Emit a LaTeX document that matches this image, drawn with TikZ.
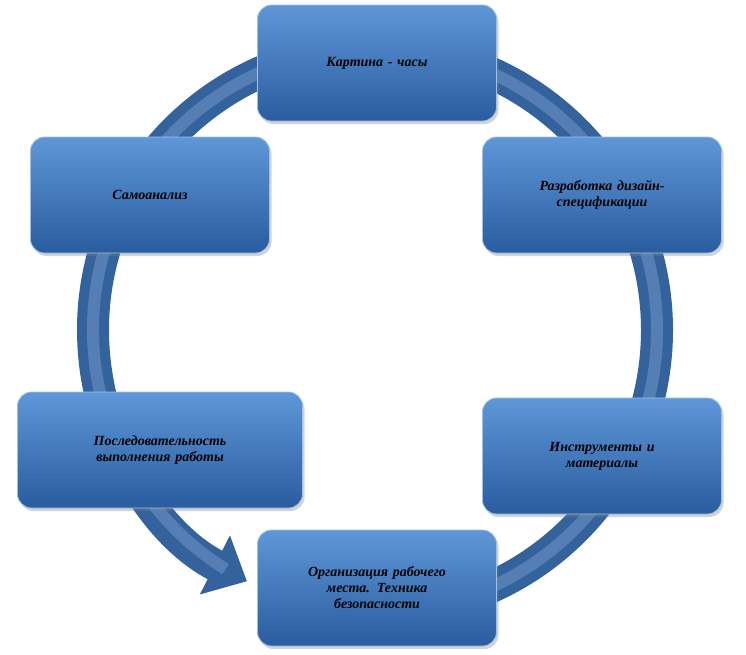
\documentclass[tikz,border=0pt]{standalone}
\usepackage{fontspec}
\setmainfont{Liberation Serif}
\usetikzlibrary{arrows.meta,shadows}
\definecolor{ringblue}{HTML}{3C73B8}
\definecolor{boxtop}{HTML}{5E97D8}
\definecolor{boxbot}{HTML}{2A5C9E}
\tikzset{
  stagebox/.style={rounded corners=14pt, minimum width=239pt, minimum height=116pt,
    top color=boxtop, bottom color=boxbot, draw=boxtop!60!white, line width=0.8pt,
    drop shadow={shadow xshift=2pt, shadow yshift=-3pt, opacity=0.35},
    align=center, text width=210pt, font=\fontsize{14}{16}\selectfont\bfseries\itshape}
}
\begin{document}
\begin{tikzpicture}[x=1pt,y=-1pt]
	\useasboundingbox (0,0) rectangle (746,654);
	% ring
	\draw[ringblue!85!black, line width=32pt, -{Triangle[width=64pt,length=36pt]}]
	   (375,330) ++(88:282) arc[start angle=88, end angle=-243, radius=282];
	\draw[ringblue!70!white, line width=12pt, opacity=0.5]
	   (375,330) ++(86:282) arc[start angle=86, end angle=-238, radius=282];
	% stages
	\node[stagebox] (clock) at (377,63) {Картина - часы};
	\node[stagebox] (spec) at (602,195) {Разработка дизайн-\\спецификации};
	\node[stagebox] (tools) at (602,456) {Инструменты и\\материалы};
	\node[stagebox] (place) at (377,588) {Организация рабочего\\места. Техника\\безопасности};
	\node[stagebox, minimum width=285pt, text width=250pt] (order) at (160,450) {Последовательность\\выполнения работы};
	\node[stagebox] (self) at (150,195) {Самоанализ};
\end{tikzpicture}
\end{document}
